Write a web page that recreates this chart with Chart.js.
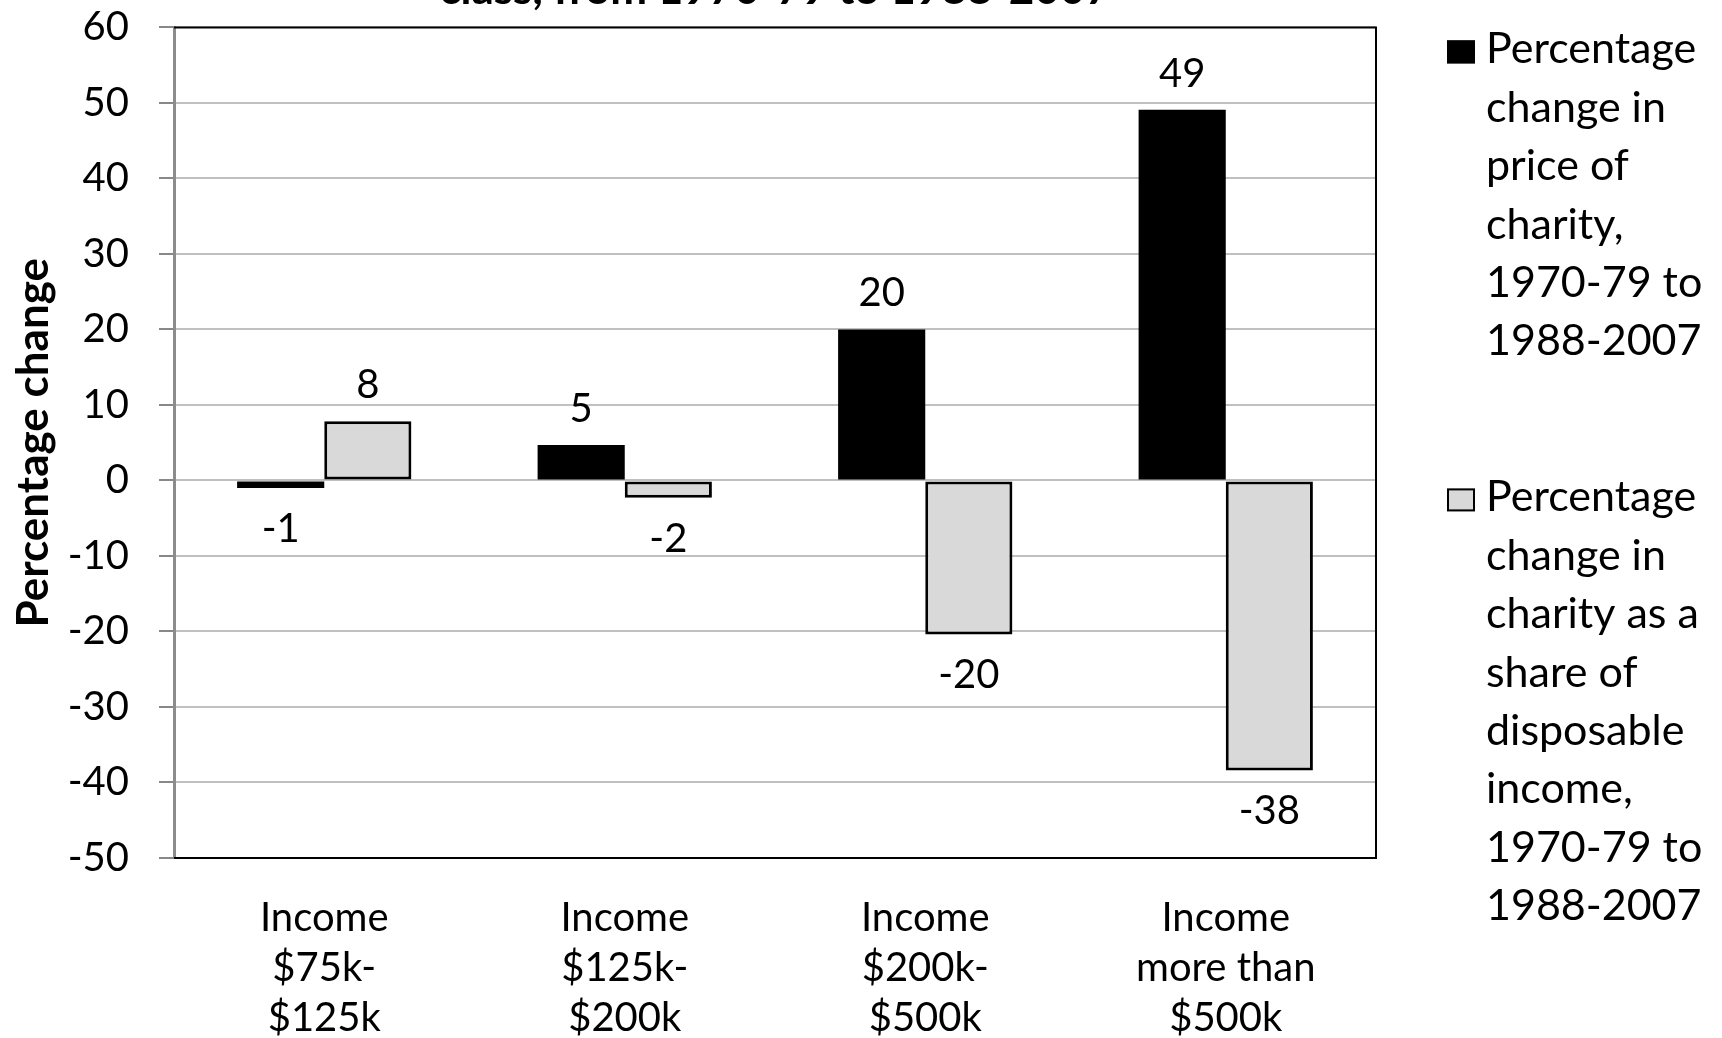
<!DOCTYPE html>
<html>
<head>
<meta charset="utf-8">
<script src="https://cdn.jsdelivr.net/npm/chart.js@4.4.1/dist/chart.umd.min.js"></script>
<style>
  html, body { margin: 0; padding: 0; background: #fff; overflow: hidden; }
  #wrap { width: 1722px; height: 1078px; margin-top: -40px; }
</style>
</head>
<body>
<div id="wrap"><canvas id="c" width="1722" height="1078"></canvas></div>
<script>
// ---- data ----
const categories = [
  ['Income', '$75k-', '$125k'],
  ['Income', '$125k-', '$200k'],
  ['Income', '$200k-', '$500k'],
  ['Income', 'more than', '$500k']
];
const priceChange = [-1, 4.7, 20, 49.1];
const shareChange = [7.85, -2.3, -20.4, -38.4];
const seriesNames = [
  'Percentage change in price of charity, 1970-79 to 1988-2007',
  'Percentage change in charity as a share of disposable income, 1970-79 to 1988-2007'
];
const legendLines = [
  ['Percentage', 'change in', 'price of', 'charity,', '1970-79 to', '1988-2007'],
  ['Percentage', 'change in', 'charity as a', 'share of', 'disposable', 'income,', '1970-79 to', '1988-2007']
];
const titleText = 'class, from 1970-79 to 1988-2007';
const yAxisTitle = 'Percentage change';
const yMin = -50, yMax = 60, yStep = 10;

const FONT = 'Lato, "Open Sans", sans-serif';

// ---- plugins ----
const plotBorder = {
  id: 'plotBorder',
  beforeDatasetsDraw(chart) {
    const {ctx, chartArea: a} = chart;
    ctx.save();
    ctx.strokeStyle = '#000';
    ctx.lineWidth = 2;
    ctx.beginPath();
    ctx.moveTo(a.left, a.top);
    ctx.lineTo(a.right, a.top);
    ctx.lineTo(a.right, a.bottom);
    ctx.lineTo(a.left, a.bottom);
    ctx.stroke();
    ctx.restore();
  }
};

const valueLabels = {
  id: 'valueLabels',
  afterDatasetsDraw(chart) {
    const {ctx} = chart;
    ctx.save();
    ctx.font = '40px ' + FONT;
    ctx.fillStyle = '#000';
    ctx.textAlign = 'center';
    ctx.textBaseline = 'alphabetic';
    chart.data.datasets.forEach((ds, di) => {
      const meta = chart.getDatasetMeta(di);
      meta.data.forEach((bar, i) => {
        const v = ds.data[i];
        const txt = String(Math.round(v));
        const y = v >= 0 ? bar.y - 23 : bar.y + 54;
        ctx.fillText(txt, bar.x, y);
      });
    });
    ctx.restore();
  }
};

const sideLegend = {
  id: 'sideLegend',
  afterDraw(chart) {
    const {ctx, chartArea: a} = chart;
    ctx.save();
    ctx.font = '43px ' + FONT;
    ctx.fillStyle = '#000';
    ctx.textAlign = 'left';
    ctx.textBaseline = 'alphabetic';
    const boxX = a.right + 71;
    const textX = a.right + 110;
    const pitch = 58.4;
    const entryTops = [a.top + 36, a.top + 484];
    chart.data.datasets.forEach((ds, di) => {
      const base = entryTops[di];
      ctx.fillStyle = ds.backgroundColor;
      ctx.fillRect(boxX, base - 23, 28, 23);
      ctx.strokeStyle = '#000';
      ctx.lineWidth = 2;
      ctx.strokeRect(boxX + 1, base - 22, 26, 21);
      ctx.fillStyle = '#000';
      legendLines[di].forEach((line, li) => {
        ctx.fillText(line, textX, base + li * pitch);
      });
    });
    ctx.restore();
  }
};

new Chart(document.getElementById('c'), {
  type: 'bar',
  data: {
    labels: categories,
    datasets: [
      {
        label: seriesNames[0],
        data: priceChange,
        backgroundColor: '#000000',
        borderColor: '#000000',
        borderWidth: 0,
        categoryPercentage: 0.58,
        barPercentage: 1.0
      },
      {
        label: seriesNames[1],
        data: shareChange,
        backgroundColor: '#d9d9d9',
        borderColor: '#000000',
        borderWidth: 3,
        borderSkipped: false,
        categoryPercentage: 0.58,
        barPercentage: 1.0
      }
    ]
  },
  options: {
    responsive: false,
    animation: false,
    devicePixelRatio: 1,
    layout: { padding: { left: 0, right: 346, top: 0, bottom: 0 } },
    plugins: {
      legend: { display: false },
      tooltip: { enabled: false },
      title: {
        display: true,
        text: titleText,
        fullSize: false,
        color: '#000',
        font: { family: FONT, size: 44, weight: 'bold', lineHeight: 1.1 },
        padding: { top: 6, bottom: 13 }
      }
    },
    scales: {
      x: {
        grid: { display: false },
        border: { display: false },
        ticks: {
          color: '#000',
          font: { family: FONT, size: 40, lineHeight: 1.25 },
          padding: 27,
          maxRotation: 0,
          autoSkip: false
        },
        afterFit(scale) { scale.height = 180; }
      },
      y: {
        min: yMin,
        max: yMax,
        ticks: {
          stepSize: yStep,
          color: '#000',
          font: { family: FONT, size: 40 },
          padding: 30
        },
        grid: {
          color: '#c0c0c0',
          lineWidth: 2,
          tickColor: '#888888',
          tickLength: 15,
          drawTicks: true
        },
        border: { display: true, color: '#8c8c8c', width: 3 },
        title: {
          display: true,
          text: yAxisTitle,
          color: '#000',
          font: { family: FONT, size: 44, weight: 'bold', lineHeight: 1.2 },
          padding: { top: 7, bottom: 0 }
        },
        afterFit(scale) { scale.width = 174; }
      }
    }
  },
  plugins: [plotBorder, valueLabels, sideLegend]
});
</script>
</body>
</html>
